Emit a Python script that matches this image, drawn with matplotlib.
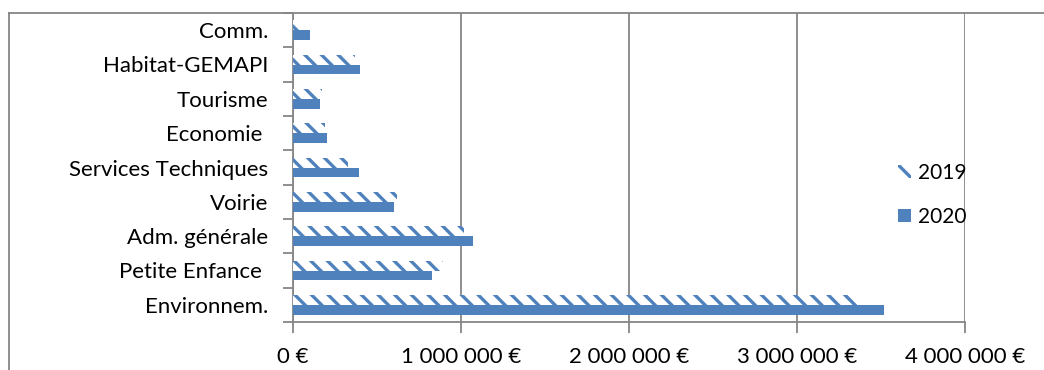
import matplotlib.pyplot as plt
import numpy as np
from matplotlib.lines import Line2D
from matplotlib.patches import Patch

# données (euros)
categories = ['Environnem.', 'Petite Enfance ', 'Adm. générale', 'Voirie',
              'Services Techniques', 'Economie ', 'Tourisme', 'Habitat-GEMAPI', 'Comm.']
val_2019 = [3360000, 890000, 1020000, 620000, 330000, 190000, 170000, 370000, 40000]
val_2020 = [3520000, 830000, 1070000, 600000, 390000, 200000, 160000, 400000, 100000]
xticks = [0, 1000000, 2000000, 3000000, 4000000]
xtick_labels = ['0 €', '1 000 000 €', '2 000 000 €', '3 000 000 €', '4 000 000 €']

blue = '#4F81BD'
grey = '#868686'

plt.rcParams['font.family'] = ['Lato', 'DejaVu Sans']
plt.rcParams['hatch.linewidth'] = 2.4

W, H = 1044, 370
fig = plt.figure(figsize=(W / 100, H / 100), dpi=100)
ax = fig.add_axes([293 / W, 1 - 322 / H, (965 - 293) / W, (322 - 13) / H])

y = np.arange(len(categories))
h = 0.29
ax.barh(y + h / 2, val_2019, height=h, color='white', edgecolor=blue,
        hatch='\\\\', linewidth=0, label='2019', zorder=3)
ax.barh(y - h / 2, val_2020, height=h, color=blue, linewidth=0,
        label='2020', zorder=3)

ax.set_xlim(0, 4000000)
ax.set_ylim(-0.5, len(categories) - 0.5)

ax.set_xticks(xticks)
ax.set_xticklabels(xtick_labels, fontsize=16)
ax.tick_params(axis='x', length=8, width=1.3, color=grey, pad=10)

# graduations entre catégories, libellés au centre
ax.set_yticks(np.arange(-0.5, len(categories), 1.0))
ax.set_yticklabels([])
ax.set_yticks(y, minor=True)
ax.set_yticklabels(categories, minor=True, fontsize=16)
ax.tick_params(axis='y', which='major', length=7, width=1.3, color=grey)
ax.tick_params(axis='y', which='minor', length=0, pad=18)

ax.grid(axis='x', color=grey, linewidth=1.3, zorder=0)
for s in ['top', 'right']:
    ax.spines[s].set_visible(False)
for s in ['left', 'bottom']:
    ax.spines[s].set_color(grey)
    ax.spines[s].set_linewidth(1.3)

handles = [Patch(facecolor='white', edgecolor=blue, hatch='\\\\', linewidth=0),
           Patch(facecolor=blue, linewidth=0)]
fig.legend(handles, ['2019', '2020'], loc='center left',
           bbox_to_anchor=(898 / W, 1 - 195 / H), frameon=False, fontsize=15,
           handlelength=0.6, handleheight=0.6, handletextpad=0.35,
           labelspacing=1.15, borderpad=0, borderaxespad=0)

# cadre extérieur du graphique
fig.add_artist(Line2D([9 / W, 1], [1 - 13 / H, 1 - 13 / H], color=grey,
                      linewidth=1.3, transform=fig.transFigure))
fig.add_artist(Line2D([9 / W, 9 / W], [0, 1 - 13 / H], color=grey,
                      linewidth=1.3, transform=fig.transFigure))

fig.savefig('out.png', dpi=100)
